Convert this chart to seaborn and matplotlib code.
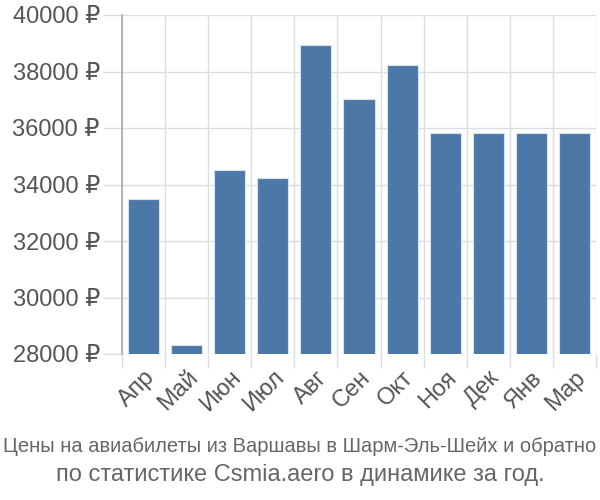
import numpy as np
import pandas as pd
import matplotlib
matplotlib.use("Agg")
import matplotlib.pyplot as plt
import seaborn as sns
from matplotlib.ticker import FixedLocator, FuncFormatter

months = ["Апр", "Май", "Июн", "Июл", "Авг", "Сен", "Окт", "Ноя", "Дек", "Янв", "Мар"]
prices = [33500, 28330, 34500, 34230, 38940, 37030, 38230, 35830, 35830, 35830, 35830]
yticks = [28000, 30000, 32000, 34000, 36000, 38000, 40000]
title_lines = ["Цены на авиабилеты из Варшавы в Шарм-Эль-Шейх и обратно",
               "по статистике Csmia.aero в динамике за год."]

sns.set_theme(style="white")
plt.rcParams['font.family'] = ['Liberation Sans', 'DejaVu Sans']

df = pd.DataFrame({"month": months, "price": prices})

fig = plt.figure(figsize=(6, 5), dpi=100)
ax = fig.add_axes([122/600, 1-354/500, (596-122)/600, (354-15)/500])

sns.barplot(data=df, x="month", y="price", color="#4c78a8", saturation=1,
            width=0.72, edgecolor="#d8e2ee", linewidth=0.8, ax=ax, zorder=3)

ax.set_ylim(28000, 40000)
ax.set_xlim(-0.5, len(months) - 0.5)
ax.yaxis.set_major_locator(FixedLocator(yticks))
ax.yaxis.set_major_formatter(FuncFormatter(lambda v, p: f"{int(v)} ₽"))

ax.xaxis.set_minor_locator(FixedLocator(np.arange(-0.5, len(months), 1)))
ax.grid(True, axis="y", which="major", color="#dddddd", linewidth=1, zorder=0)
ax.grid(True, axis="x", which="minor", color="#dddddd", linewidth=1, zorder=0)
ax.set_axisbelow(True)

ax.tick_params(axis="y", which="major", length=14, color="#dddddd", width=1,
               labelsize=17, labelcolor="#555555", pad=2)
ax.tick_params(axis="x", which="major", length=0, labelsize=17, labelcolor="#555555", pad=9)
ax.tick_params(axis="x", which="minor", length=10, color="#dddddd", width=1)
ax.xaxis.set_ticks_position("bottom")
ax.yaxis.set_ticks_position("left")
plt.setp(ax.get_xticklabels(), rotation=45, ha="right", rotation_mode="anchor")

for s in ["top", "right", "bottom"]:
    ax.spines[s].set_visible(False)
ax.spines["left"].set_color("#aaaaaa")
ax.spines["left"].set_linewidth(1.2)

ax.set_xlabel("")
ax.set_ylabel("")

fig.text(0.5, 1-447/500, title_lines[0], ha="center", va="center", fontsize=14.5,
         color="#666666")
fig.text(0.5, 1-475/500, title_lines[1], ha="center", va="center", fontsize=17,
         color="#666666")

fig.savefig("out.png", dpi=100)
